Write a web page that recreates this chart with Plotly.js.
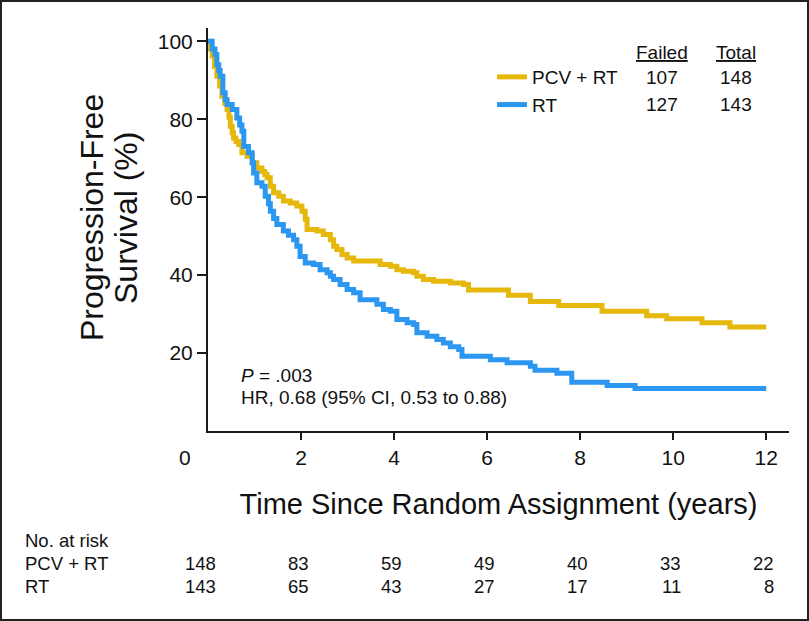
<!DOCTYPE html>
<html>
<head>
<meta charset="utf-8">
<script src="https://cdn.plot.ly/plotly-3.0.1.min.js"></script>
<style>
  html, body { margin: 0; padding: 0; background: #fff; }
  #wrap { position: relative; width: 809px; height: 621px; }
  #chart { width: 809px; height: 621px; }
  #frame { position: absolute; left: 0; top: 0; width: 809px; height: 621px; box-sizing: border-box; border: 2px solid #222; pointer-events: none; }
</style>
</head>
<body>
<div id="wrap"><div id="chart"></div><div id="frame"></div></div>
<script>
// ---- Data ----
const pcvTime = [0, 0.05, 0.09, 0.14, 0.19, 0.25, 0.30, 0.36, 0.41, 0.45, 0.48, 0.52, 0.55, 0.60, 0.66, 0.73, 0.84, 0.95, 1.05, 1.16, 1.22, 1.27, 1.34, 1.41, 1.52, 1.62, 1.77, 1.91, 2.02, 2.09, 2.13, 2.34, 2.48, 2.63, 2.70, 2.77, 2.88, 2.99, 3.13, 3.70, 3.92, 4.06, 4.20, 4.42, 4.49, 4.63, 4.85, 5.21, 5.49, 5.60, 6.46, 6.93, 7.54, 8.47, 9.43, 9.86, 10.62, 11.22, 12.0];
const pcvSurv = [100, 98, 96.2, 93.5, 91, 88.5, 85.9, 84, 82.5, 80.5, 78.2, 76.5, 75.2, 74.3, 73.5, 71.4, 70.5, 68.8, 67.5, 66.6, 65.8, 65, 62.8, 61.1, 60.2, 59, 58.5, 57.7, 56.4, 54.3, 51.7, 51.3, 50.4, 49.1, 47.4, 46.6, 45.3, 44.4, 43.6, 42.7, 42.3, 41.4, 41, 40.6, 39.7, 38.9, 38.4, 38, 37.6, 36.2, 34.8, 33.2, 32.2, 30.7, 29.6, 28.8, 27.8, 26.7, 26.7];

const rtTime = [0, 0.09, 0.15, 0.19, 0.23, 0.26, 0.32, 0.37, 0.41, 0.52, 0.62, 0.68, 0.73, 0.77, 0.87, 0.95, 0.98, 1.05, 1.16, 1.23, 1.30, 1.34, 1.41, 1.48, 1.62, 1.73, 1.84, 1.91, 1.98, 2.09, 2.27, 2.41, 2.56, 2.63, 2.70, 2.84, 2.99, 3.13, 3.27, 3.63, 3.77, 3.92, 4.06, 4.28, 4.42, 4.49, 4.71, 4.92, 5.06, 5.21, 5.39, 5.46, 6.07, 6.43, 6.93, 7.03, 7.50, 7.82, 8.58, 9.18, 12.0];
const rtSurv = [100, 98, 96.6, 94, 92.5, 91, 86.8, 85, 83.8, 82.5, 80.3, 78.5, 76.9, 73, 71.4, 68.8, 66.2, 63.7, 62.8, 60.2, 58.3, 56.4, 54.5, 53, 51.3, 50.2, 49.1, 47.4, 44.8, 43.1, 42.7, 41.4, 40.6, 39.7, 38.9, 37.6, 36.3, 35.5, 33.7, 32.5, 31.2, 30.7, 28.6, 27.8, 27.3, 25.2, 24.3, 23.5, 22.6, 21.6, 20.9, 19.2, 18.3, 17.5, 16.6, 15.6, 14.8, 12.5, 11.7, 10.9, 10.9];

const groupNames = ["PCV + RT", "RT"];
const failed = [107, 127];
const total = [148, 143];

const riskTimes = [0, 2, 4, 6, 8, 10, 12];
const riskPCV = [148, 83, 59, 49, 40, 33, 22];
const riskRT = [143, 65, 43, 27, 17, 11, 8];

const xTickVals = [2, 4, 6, 8, 10, 12];
const yTickVals = [20, 40, 60, 80, 100];

// ---- Layout helpers ----
const W = 809, H = 621;
const M = { l: 208, r: 20, t: 28, b: 190 };
const PW = W - M.l - M.r, PH = H - M.t - M.b;
const px = v => (v - M.l) / PW;          // pixel x -> paper
const py = v => (M.t + PH - v) / PH;     // pixel y -> paper

const YELLOW = '#E5B80B';
const BLUE = '#2C97F0';
const INK = '#111111';
const SANS = 'Liberation Sans, Arial, Helvetica, sans-serif';

const traces = [
  { x: pcvTime, y: pcvSurv, name: groupNames[0], type: 'scatter', mode: 'lines',
    line: { shape: 'hv', color: YELLOW, width: 5 } },
  { x: rtTime, y: rtSurv, name: groupNames[1], type: 'scatter', mode: 'lines',
    line: { shape: 'hv', color: BLUE, width: 5 } }
];

const ann = [];
const txt = (text, x, y, xanchor, size, extra) =>
  ann.push(Object.assign({ text, x: px(x), y: py(y), xref: 'paper', yref: 'paper', xanchor, yanchor: 'middle',
    showarrow: false, font: { family: SANS, size: size || 19, color: INK } }, extra || {}));

// origin label
txt('0', 185, 457, 'center', 21);
// y-axis title (two lines)
txt('Progression-Free', 92, 218, 'center', 32, { textangle: -90 });
txt('Survival (%)', 126, 218, 'center', 32, { textangle: -90 });
// legend table headers and values
txt('<u>Failed</u>', 662, 52, 'center', 19);
txt('<u>Total</u>', 736, 52, 'center', 19);
[78, 104].forEach((yy, i) => {
  txt(String(failed[i]), 662, yy, 'center', 19);
  txt(String(total[i]), 736, yy, 'center', 19);
});
// statistics
txt('<i>P</i> = .003', 239, 375, 'left', 19);
txt('HR, 0.68 (95% CI, 0.53 to 0.88)', 239, 397, 'left', 19);
// number at risk table
txt('No. at risk', 23, 540, 'left', 18.5);
txt(groupNames[0], 23, 563, 'left', 18.5);
txt(groupNames[1], 23, 586, 'left', 18.5);
riskTimes.forEach((t, i) => {
  [[riskPCV, 563], [riskRT, 586]].forEach(([arr, yy]) => {
    ann.push({ text: String(arr[i]), x: t, xref: 'x', y: py(yy), yref: 'paper',
      xanchor: 'right', yanchor: 'middle', xshift: 9.5, showarrow: false,
      font: { family: SANS, size: 18.5, color: INK } });
  });
});

const layout = {
  width: W, height: H,
  margin: M,
  paper_bgcolor: '#fff', plot_bgcolor: '#fff',
  showlegend: true,
  legend: { x: px(492), y: py(91), xanchor: 'left', yanchor: 'middle',
    font: { family: SANS, size: 19, color: INK }, bgcolor: 'rgba(0,0,0,0)',
    tracegroupgap: 0, itemwidth: 30 },
  xaxis: {
    range: [0, 12.49], tickvals: xTickVals, ticktext: xTickVals.map(String),
    showline: true, linewidth: 2, linecolor: '#1a1a1a', mirror: false,
    ticks: 'outside', ticklen: 7, tickwidth: 2, tickcolor: '#1a1a1a',
    showgrid: false, zeroline: false,
    tickfont: { family: SANS, size: 21, color: INK },
    title: { text: 'Time Since Random Assignment (years)', font: { family: SANS, size: 29, color: INK }, standoff: 25 }
  },
  yaxis: {
    range: [0, 103.4], tickvals: yTickVals, ticktext: yTickVals.map(String),
    showline: true, linewidth: 2, linecolor: '#1a1a1a',
    ticks: 'outside', ticklen: 9, tickwidth: 2, tickcolor: '#1a1a1a',
    showgrid: false, zeroline: false,
    tickfont: { family: SANS, size: 21, color: INK }
  },
  annotations: ann
};

Plotly.newPlot('chart', traces, layout, { displayModeBar: false, staticPlot: true });
</script>
</body>
</html>
